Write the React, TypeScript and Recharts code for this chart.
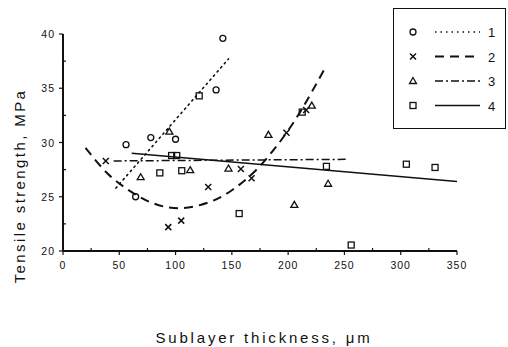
import { ComposedChart, Scatter, Line, XAxis, YAxis, Legend } from "recharts";

const circles = [
  { x: 56, y: 29.8 },
  { x: 64.5, y: 25.0 },
  { x: 78, y: 30.45 },
  { x: 100, y: 30.3 },
  { x: 136, y: 34.85 },
  { x: 142, y: 39.6 },
];

const crosses = [
  { x: 38, y: 28.3 },
  { x: 93.5, y: 22.2 },
  { x: 105, y: 22.8 },
  { x: 129, y: 25.9 },
  { x: 158, y: 27.55 },
  { x: 167.5, y: 26.7 },
  { x: 198.5, y: 30.9 },
  { x: 216, y: 33.0 },
];

const triangles = [
  { x: 69, y: 26.8 },
  { x: 94.5, y: 31.0 },
  { x: 113, y: 27.45 },
  { x: 147, y: 27.6 },
  { x: 182.5, y: 30.7 },
  { x: 205.5, y: 24.25 },
  { x: 221, y: 33.4 },
  { x: 235.5, y: 26.2 },
];

const squares = [
  { x: 86, y: 27.2 },
  { x: 96.5, y: 28.8 },
  { x: 101, y: 28.8 },
  { x: 105.5, y: 27.4 },
  { x: 121, y: 34.3 },
  { x: 156.5, y: 23.45 },
  { x: 212.5, y: 32.8 },
  { x: 234, y: 27.8 },
  { x: 256, y: 20.55 },
  { x: 305, y: 28.0 },
  { x: 330.5, y: 27.7 },
];

// fitted curves
const fit1 = [
  { x: 47, y: 25.8 },
  { x: 147, y: 37.7 },
];
const fit2 = [
  { x: 20, y: 29.5 },
  { x: 40, y: 27.1 },
  { x: 60, y: 25.5 },
  { x: 80, y: 24.4 },
  { x: 104, y: 23.95 },
  { x: 130, y: 24.5 },
  { x: 150, y: 25.6 },
  { x: 170, y: 27.3 },
  { x: 190, y: 29.7 },
  { x: 210, y: 32.7 },
  { x: 234, y: 37.1 },
];
const fit3 = [
  { x: 45, y: 28.3 },
  { x: 252, y: 28.45 },
];
const fit4 = [
  { x: 61, y: 29.0 },
  { x: 350, y: 26.4 },
];

const xTicks = [0, 25, 50, 75, 100, 125, 150, 175, 200, 225, 250, 275, 300, 325, 350];
const yTicks = [20, 22.5, 25, 27.5, 30, 32.5, 35, 37.5, 40];
const legendLabels = ["1", "2", "3", "4"];

const INK = "#111";
const FONT = "'Liberation Sans', Arial, sans-serif";

const Circle = ({ cx, cy }: any) => (
  <circle cx={cx} cy={cy} r={3} fill="none" stroke={INK} strokeWidth={1.3} />
);
const Cross = ({ cx, cy }: any) => (
  <path d={`M${cx - 3},${cy - 3}L${cx + 3},${cy + 3}M${cx - 3},${cy + 3}L${cx + 3},${cy - 3}`} stroke={INK} strokeWidth={1.5} />
);
const Triangle = ({ cx, cy }: any) => (
  <path d={`M${cx},${cy - 3.5}L${cx + 3.5},${cy + 2.5}L${cx - 3.5},${cy + 2.5}Z`} fill="none" stroke={INK} strokeWidth={1.3} />
);
const Square = ({ cx, cy }: any) => (
  <rect x={cx - 3} y={cy - 3} width={6} height={6} fill="none" stroke={INK} strokeWidth={1.3} />
);

const XTick = ({ x, y, payload }: any) => {
  const v = payload.value;
  const major = v % 50 === 0;
  return (
    <g>
      <line x1={x} x2={x} y1={y} y2={major ? y + 4 : y - 3} stroke={INK} strokeWidth={1.2} />
      {major && (
        <text x={x} y={y + 18} textAnchor="middle" fontSize={10.5} letterSpacing={1} fill={INK} fontFamily={FONT}>
          {v}
        </text>
      )}
    </g>
  );
};

const YTick = ({ x, y, payload }: any) => {
  const v = payload.value;
  const major = v % 5 === 0;
  return (
    <g>
      <line x1={x} x2={major ? x - 4 : x + 3} y1={y} y2={y} stroke={INK} strokeWidth={1.2} />
      {major && (
        <text x={x - 8} y={y + 4} textAnchor="end" fontSize={10.5} letterSpacing={1} fill={INK} fontFamily={FONT}>
          {v}
        </text>
      )}
    </g>
  );
};

const lineStyles = [
  { dash: "1.5 4", width: 1.6 },
  { dash: "9 6", width: 2 },
  { dash: "8 3 2 3", width: 1.5 },
  { dash: "", width: 1.5 },
];
const markers = [Circle, Cross, Triangle, Square];

function LegendBox() {
  return (
    <svg width={113} height={121} style={{ display: "block" }}>
      <rect x={0.5} y={0.5} width={112} height={120} fill="#fff" stroke={INK} strokeWidth={1} />
      {legendLabels.map((label, i) => {
        const M = markers[i];
        const cy = 24 + i * 24.5;
        return (
          <g key={label}>
            <M cx={20} cy={cy} />
            <line x1={42} x2={87} y1={cy} y2={cy} stroke={INK} strokeWidth={lineStyles[i].width} strokeDasharray={lineStyles[i].dash} />
            <text x={95} y={cy + 5} fontSize={13} fill={INK} fontFamily={FONT}>
              {label}
            </text>
          </g>
        );
      })}
    </svg>
  );
}

export default function App() {
  return (
    <div style={{ position: "absolute", left: 0, top: 0, width: 508, height: 347, background: "#fff" }}>
      <ComposedChart width={508} height={347} margin={{ top: 34, right: 51, bottom: 48, left: 0 }}>
        <XAxis
          type="number"
          dataKey="x"
          domain={[0, 350]}
          ticks={xTicks}
          interval={0}
          height={48}
          tickSize={0}
          tickMargin={0}
          tickLine={false}
          tick={<XTick />}
          axisLine={{ stroke: INK, strokeWidth: 2 }}
          allowDataOverflow
        />
        <YAxis
          type="number"
          dataKey="y"
          domain={[20, 40]}
          ticks={yTicks}
          interval={0}
          width={63}
          tickSize={0}
          tickMargin={0}
          tickLine={false}
          tick={<YTick />}
          axisLine={{ stroke: INK, strokeWidth: 2 }}
          allowDataOverflow
        />
        <Line data={fit1} dataKey="y" type="linear" stroke={INK} strokeWidth={1.6} strokeDasharray="1.5 4" strokeLinecap="round" dot={false} isAnimationActive={false} legendType="none" />
        <Line data={fit2} dataKey="y" type="natural" stroke={INK} strokeWidth={2} strokeDasharray="9 6" dot={false} isAnimationActive={false} legendType="none" />
        <Line data={fit3} dataKey="y" type="linear" stroke={INK} strokeWidth={1.5} strokeDasharray="8 3 2 3" dot={false} isAnimationActive={false} legendType="none" />
        <Line data={fit4} dataKey="y" type="linear" stroke={INK} strokeWidth={1.5} dot={false} isAnimationActive={false} legendType="none" />
        <Scatter data={circles} dataKey="y" shape={<Circle />} isAnimationActive={false} />
        <Scatter data={crosses} dataKey="y" shape={<Cross />} isAnimationActive={false} />
        <Scatter data={triangles} dataKey="y" shape={<Triangle />} isAnimationActive={false} />
        <Scatter data={squares} dataKey="y" shape={<Square />} isAnimationActive={false} />
        <Legend
          layout="horizontal"
          verticalAlign="middle"
          align="center"
          wrapperStyle={{ left: 393, top: 8, width: 113, height: 121 }}
          content={() => <LegendBox />}
        />
        <text x={264} y={343} textAnchor="middle" fontSize={15} letterSpacing={2.8} fill={INK} fontFamily={FONT}>
          Sublayer thickness, μm
        </text>
        <text
          x={25}
          y={186}
          transform="rotate(-90 25 186)"
          textAnchor="middle"
          fontSize={15}
          letterSpacing={2.4}
          fill={INK}
          fontFamily={FONT}
        >
          Tensile strength, MPa
        </text>
      </ComposedChart>
    </div>
  );
}
